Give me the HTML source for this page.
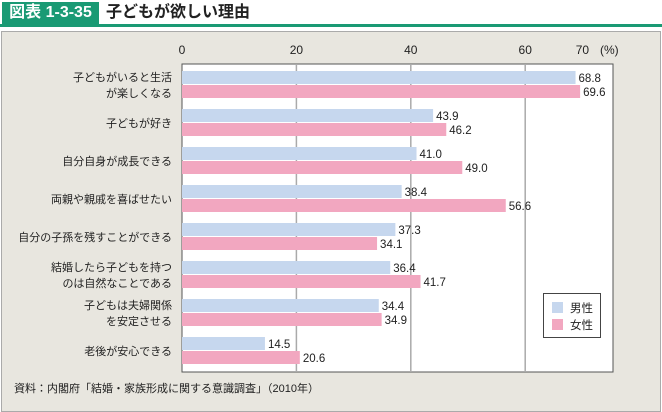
<!DOCTYPE html>
<html><head><meta charset="utf-8"><style>
body{margin:0;width:662px;height:412px;background:#fff;font-family:"Liberation Sans","Noto Sans CJK JP",sans-serif;overflow:hidden;position:relative}
.hdr{position:absolute;left:0;top:0;width:662px;height:27px;background:#fff;border-bottom:3px solid #1a9a74;box-sizing:border-box}
.tag{position:absolute;left:2px;top:2px;width:97px;height:22px;background:#1a9a74;color:#fff;font-size:16px;font-weight:bold;line-height:22px;text-align:center}
.ttl{position:absolute;left:106px;top:2px;font-size:16px;font-weight:bold;line-height:22px;color:#222}
.panel{position:absolute;left:1px;top:31px;width:658px;height:379px;background:#e8e6df;border:1px solid #aaa}
</style></head><body>
<div class="hdr">
<div class="tag">図表 1-3-35</div>
<div class="ttl">子どもが欲しい理由</div>
</div>
<div class="panel"></div>
<svg id="c" width="662" height="412" style="position:absolute;left:0;top:0"></svg>
<script>
const categories=[["子どもがいると生活","が楽しくなる"],["子どもが好き"],["自分自身が成長できる"],["両親や親戚を喜ばせたい"],["自分の子孫を残すことができる"],["結婚したら子どもを持つ","のは自然なことである"],["子どもは夫婦関係","を安定させる"],["老後が安心できる"]];
const male=[68.8,43.9,41.0,38.4,37.3,36.4,34.4,14.5];
const female=[69.6,46.2,49.0,56.6,34.1,41.7,34.9,20.6];
const ticks=[0,20,40,60,70];
const seriesNames=["男性","女性"];
const colors=["#c6d7ee","#f2a7c0"];
const NS="http://www.w3.org/2000/svg";
const svg=document.getElementById('c');
const x0=182,sc=5.72,top0=64,bot=372,right=613,grp=38.5;
const xs=v=>x0+v*sc;
function el(t,a,txt){const e=document.createElementNS(NS,t);for(const k in a)e.setAttribute(k,a[k]);if(txt!=null)e.textContent=txt;svg.appendChild(e);return e;}
const pa=el('rect',{x:x0,y:top0,width:right-x0,height:bot-top0,fill:'#fff',stroke:'#555','stroke-width':1});


ticks.forEach(t=>{
 if(t>0&&t<70){const g=el('line',{x1:xs(t),x2:xs(t),y1:top0,y2:bot,stroke:'#aaa','stroke-width':1.5});
 
 }
 const l=el('text',{x:xs(t),y:54,'font-size':12,'text-anchor':'middle',fill:'#222'},String(t));
 
 
});
const u=el('text',{x:600,y:54,'font-size':12,fill:'#222'},'(%)');


categories.forEach((c,i)=>{
 const gy=top0+7+i*38;
 [male[i],female[i]].forEach((v,s)=>{
  const y=gy+s*14;
  const r=el('rect',{x:x0,y:y,width:xs(v)-x0,height:13,fill:colors[s]});
  
  
  const t=el('text',{x:xs(v)+3,y:y+11,'font-size':11.5,fill:'#222'},v.toFixed(1));
  
  
 });
 const cy=gy+14;
 c.forEach((line,j)=>{
  const t=el('text',{x:172,y:cy+4+(j-(c.length-1)/2)*16,'font-size':11,'text-anchor':'end',fill:'#222'},line);
  
  
 });
});
const lb=el('rect',{x:543.5,y:293.5,width:57,height:44,fill:'#fff',stroke:'#444'});


seriesNames.forEach((n,s)=>{
 const r=el('rect',{x:552,y:302+s*17,width:11,height:11,fill:colors[s]});
 
 
 const t=el('text',{x:570,y:312+s*17,'font-size':11.5,fill:'#222'},n);
 
 
});
const f=el('text',{x:14,y:392,'font-size':11,fill:'#222'},'資料：内閣府「結婚・家族形成に関する意識調査」（2010年）');


</script>
</body></html>
